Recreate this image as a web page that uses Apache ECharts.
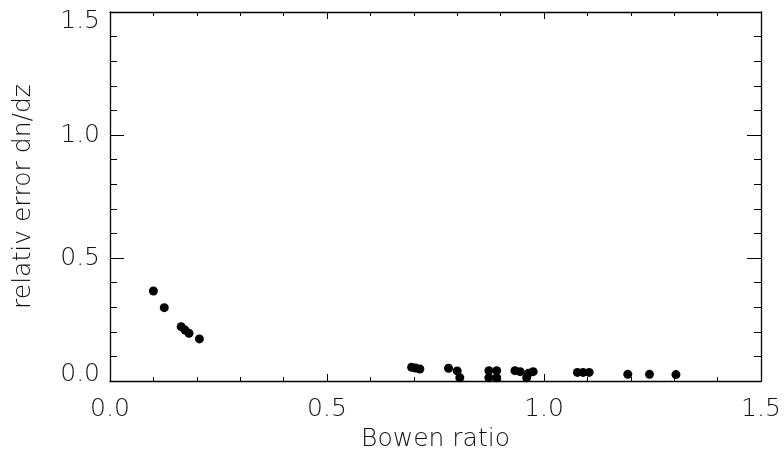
<!DOCTYPE html>
<html>
<head>
<meta charset="utf-8">
<script src="https://cdn.jsdelivr.net/npm/echarts@6/dist/echarts.min.js"></script>
<style>html,body{margin:0;padding:0;background:#fff}#c{width:784px;height:464px}</style>
</head>
<body>
<div id="c"></div>
<script>
const bowenRatio = [0.100, 0.125, 0.164, 0.173, 0.182, 0.206,
  0.695, 0.704, 0.714, 0.780, 0.800, 0.806,
  0.873, 0.891, 0.873, 0.891,
  0.933, 0.945, 0.964, 0.960, 0.975,
  1.077, 1.090, 1.104, 1.193, 1.243, 1.304];
const relError = [0.366, 0.298, 0.221, 0.207, 0.194, 0.171,
  0.056, 0.053, 0.049, 0.052, 0.041, 0.013,
  0.042, 0.042, 0.013, 0.013,
  0.042, 0.038, 0.031, 0.013, 0.038,
  0.035, 0.035, 0.035, 0.027, 0.027, 0.026];
const xTickLabels = ['0.0', '0.5', '1.0', '1.5'];
const yTickLabels = ['0.0', '0.5', '1.0', '1.5'];
const xTitle = 'Bowen ratio';
const yTitle = 'relativ error dn/dz';

const FONT = '"DejaVu Sans", sans-serif';
const txt = {fontFamily: FONT, fontSize: 25, fontWeight: 200, color: '#111'};
const fmtX = v => xTickLabels[Math.round(v / 0.5)] ?? '';
const fmtY = v => {
  const i = Math.round(v / 0.5);
  const s = yTickLabels[i] ?? '';
  if (i === 0) return '{b|' + s + '}';
  if (i === yTickLabels.length - 1) return '{t|' + s + '}';
  return '{m|' + s + '}';
};
const line = {show: true, onZero: false, lineStyle: {color: '#000', width: 1.3}};
const tickStyle = {color: '#000', width: 1};

const chart = echarts.init(document.getElementById('c'), null, {renderer: 'canvas'});
chart.setOption({
  animation: false,
  backgroundColor: '#fff',
  grid: {left: 110, top: 12, right: 23, bottom: 83, containLabel: false},
  xAxis: [{
    type: 'value', min: 0, max: 1.5, interval: 0.5, position: 'bottom',
    axisLine: line, splitLine: {show: false},
    axisTick: {inside: true, length: 7, lineStyle: tickStyle},
    minorTick: {show: true, splitNumber: 5, length: 4, lineStyle: tickStyle},
    axisLabel: Object.assign({margin: 16, formatter: fmtX}, txt),
    name: xTitle, nameLocation: 'middle', nameGap: 46, nameTextStyle: txt
  }, {
    type: 'value', min: 0, max: 1.5, interval: 0.5, position: 'top',
    axisLine: line, splitLine: {show: false},
    axisTick: {inside: true, length: 7, lineStyle: tickStyle},
    minorTick: {show: true, splitNumber: 5, length: 4, lineStyle: tickStyle},
    axisLabel: {show: false}
  }],
  yAxis: [{
    type: 'value', min: 0, max: 1.5, interval: 0.5, position: 'left',
    axisLine: line, splitLine: {show: false},
    axisTick: {inside: true, length: 14, lineStyle: tickStyle},
    minorTick: {show: true, splitNumber: 5, length: 7, lineStyle: tickStyle},
    axisLabel: Object.assign({margin: 10, formatter: fmtY, rich: {
      t: {fontFamily: FONT, fontSize: 25, fontWeight: 200, color: '#111', padding: [18, 0, 0, 0]},
      b: {fontFamily: FONT, fontSize: 25, fontWeight: 200, color: '#111', padding: [0, 0, 14, 0]},
      m: {fontFamily: FONT, fontSize: 25, fontWeight: 200, color: '#111', padding: [0, 0, 0, 0]}
    }}, txt),
    name: yTitle, nameLocation: 'middle', nameGap: 74, nameTextStyle: txt
  }, {
    type: 'value', min: 0, max: 1.5, interval: 0.5, position: 'right',
    axisLine: line, splitLine: {show: false},
    axisTick: {inside: true, length: 14, lineStyle: tickStyle},
    minorTick: {show: true, splitNumber: 5, length: 7, lineStyle: tickStyle},
    axisLabel: {show: false}
  }],
  series: [{
    type: 'scatter', xAxisIndex: 0, yAxisIndex: 0,
    symbol: 'circle', symbolSize: 9,
    itemStyle: {color: '#000', opacity: 1},
    data: bowenRatio.map((x, i) => [x, relError[i]])
  }]
});
</script>
</body>
</html>
